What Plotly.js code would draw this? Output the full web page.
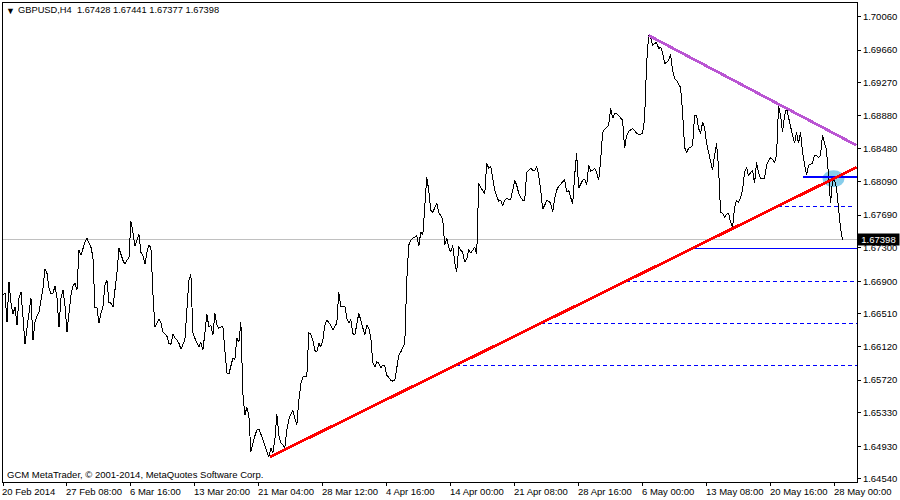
<!DOCTYPE html>
<html>
<head>
<meta charset="utf-8">
<script src="https://cdn.plot.ly/plotly-3.0.1.min.js"></script>
<style>
html,body{margin:0;padding:0;background:#fff}
#chart{width:900px;height:500px}
.scatterlayer .js-line{shape-rendering:crispEdges}
</style>
</head>
<body>
<div id="chart"></div>
<script>
// one close per H4 bar, bar 0 = 20 Feb 2014
const closes = [
1.66734,1.66758,1.66412,1.66889,1.66638,1.66507,1.66591,1.66376,1.66698,1.66769,
1.66471,1.66149,1.66340,1.66519,1.66698,1.66197,1.66412,1.66483,1.66531,1.66674,
1.66817,1.67044,1.66996,1.66817,1.66746,1.66758,1.66841,1.66710,1.66352,1.66698,
1.66793,1.66614,1.66293,1.66519,1.66734,1.66841,1.66877,1.66793,1.67270,1.67211,
1.67294,1.67366,1.67413,1.67366,1.67306,1.67187,1.66591,1.66591,1.66400,1.66519,
1.66591,1.66853,1.66913,1.66650,1.66638,1.66591,1.66769,1.66996,1.67294,1.67211,
1.67151,1.67103,1.67151,1.67175,1.67616,1.67485,1.67318,1.67389,1.67461,1.67246,
1.67211,1.67103,1.67246,1.67330,1.67306,1.66758,1.66352,1.66400,1.66448,1.66412,
1.66293,1.66269,1.66245,1.66161,1.66149,1.66269,1.66221,1.66197,1.66161,1.66090,
1.66149,1.66197,1.66555,1.66913,1.66984,1.66281,1.66221,1.66173,1.66114,1.66173,
1.66078,1.66281,1.66507,1.66352,1.66376,1.66257,1.66519,1.66376,1.66340,1.66352,
1.66364,1.66078,1.65804,1.65792,1.65899,1.65983,1.65959,1.66221,1.66173,1.66412,
1.65565,1.65303,1.65398,1.65303,1.64862,1.64969,1.65053,1.65124,1.65136,1.65076,
1.65005,1.64945,1.64886,1.64802,1.64910,1.64850,1.65005,1.65315,1.65065,1.64969,
1.64945,1.64910,1.65124,1.65255,1.65315,1.65363,1.65267,1.65184,1.65482,1.65673,
1.65756,1.65768,1.65768,1.66281,1.66269,1.66197,1.66078,1.66054,1.66161,1.66114,
1.66197,1.66376,1.66436,1.66400,1.66376,1.66316,1.66364,1.66400,1.66769,1.66603,
1.66603,1.66603,1.66459,1.66400,1.66448,1.66281,1.66257,1.66376,1.66519,1.66436,
1.66340,1.66257,1.66376,1.66340,1.66233,1.65935,1.65875,1.65935,1.65923,1.65863,
1.65899,1.65887,1.65780,1.65744,1.65720,1.65708,1.65720,1.65863,1.66018,1.66054,
1.66114,1.66149,1.66913,1.67330,1.67389,1.67413,1.67425,1.67449,1.67318,1.67485,
1.67449,1.67783,1.68141,1.67986,1.67747,1.67723,1.67783,1.67831,1.67723,1.67676,
1.67640,1.67330,1.67413,1.67306,1.67246,1.67330,1.67127,1.67008,1.67318,1.67270,
1.67246,1.67127,1.67163,1.67282,1.67234,1.67270,1.67306,1.67223,1.68069,1.68021,
1.67974,1.67938,1.68308,1.68248,1.68272,1.68105,1.67986,1.67914,1.67854,1.67866,
1.67795,1.67866,1.67890,1.67878,1.67878,1.67986,1.68105,1.68045,1.67950,1.67902,
1.67866,1.67866,1.68200,1.68224,1.68248,1.68224,1.68224,1.68272,1.68164,1.67986,
1.67759,1.67807,1.67866,1.67854,1.67831,1.67723,1.67890,1.67986,1.68033,1.68057,
1.68093,1.68117,1.67962,1.67986,1.67902,1.67819,1.68164,1.68427,1.68009,1.68057,
1.68105,1.68117,1.68045,1.68284,1.68212,1.68224,1.68248,1.68200,1.68105,1.68343,
1.68677,1.68713,1.68737,1.68761,1.68963,1.68844,1.68904,1.68904,1.68880,1.68856,
1.68820,1.68486,1.68641,1.68689,1.68713,1.68725,1.68701,1.68665,1.68653,1.68653,
1.68665,1.68844,1.69500,1.69834,1.69810,1.69714,1.69738,1.69750,1.69679,1.69691,
1.69631,1.69500,1.69512,1.69536,1.69607,1.69416,1.69321,1.69297,1.69249,1.69214,
1.68916,1.68498,1.68439,1.68486,1.68498,1.68522,1.68880,1.68880,1.68725,1.68665,
1.68796,1.68737,1.68546,1.68439,1.68319,1.68224,1.68403,1.68546,1.68248,1.67723,
1.67711,1.67664,1.67699,1.67711,1.67604,1.67544,1.67783,1.67866,1.67843,1.67902,
1.67986,1.68200,1.68260,1.68153,1.68200,1.68224,1.68069,1.68319,1.68200,1.68129,
1.68129,1.68129,1.68284,1.68343,1.68379,1.68355,1.68319,1.68403,1.68999,1.68880,
1.68677,1.68880,1.68963,1.68856,1.68725,1.68641,1.68546,1.68677,1.68546,1.68677,
1.68439,1.68284,1.68164,1.68284,1.68296,1.68308,1.68403,1.68403,1.68379,1.68403,
1.68641,1.68558,1.68463,1.68164,1.67831,1.68105,1.68105,1.68009,1.67747,1.67533,
1.67398
];
const bars = closes.map((_, i) => i);

const xTickBars = [0,32,64,96,128,160,192,224,256,288,320,352,384,416];
const xTickLabels = ['20 Feb 2014','27 Feb 08:00','6 Mar 16:00','13 Mar 20:00','21 Mar 04:00','28 Mar 12:00','4 Apr 16:00','14 Apr 00:00','21 Apr 08:00','28 Apr 16:00','6 May 00:00','13 May 08:00','20 May 16:00','28 May 00:00'];
const yTickLabels = ['1.70060','1.69660','1.69270','1.68880','1.68480','1.68090','1.67690','1.67300','1.66900','1.66510','1.66120','1.65720','1.65330','1.64930','1.64540'];
const yTickValues = yTickLabels.map(Number);

const xRange = [0, 427.25];
const yRange = [1.64504, 1.70221];

const headerText = 'GBPUSD,H4&nbsp;&nbsp;1.67428 1.67441 1.67377 1.67398';
const footerText = 'GCM MetaTrader, © 2001-2014, MetaQuotes Software Corp.';
const lastPrice = 1.67398;

const resistBars = [323, 427];
const resistPrices = [1.69834, 1.68522];
const supportBars = [133.5, 427];
const supportPrices = [1.64802, 1.68260];
const breakBars = [400, 427];
const breakPrices = [1.68141, 1.68141];
const target1Bars = [387.5, 426];
const target1Prices = [1.67795, 1.67795];
const target2Bars = [344.5, 427];
const target2Prices = [1.67290, 1.67290];
const target3Bars = [311.5, 427];
const target3Prices = [1.66900, 1.66900];
const target4Bars = [269, 427];
const target4Prices = [1.66400, 1.66400];
const target5Bars = [226.5, 427];
const target5Prices = [1.65899, 1.65899];
const ellipseBars = [410, 421];
const ellipsePrices = [1.68021, 1.68224];

const FONT = '"Liberation Sans", Arial, sans-serif';
const ln = (x, y, color, width, dash) => ({
  x, y, type: 'scatter', mode: 'lines', hoverinfo: 'skip', showlegend: false,
  line: {color, width, dash: dash || 'solid', shape: 'linear'}
});

const traces = [
  ln(xRange, [lastPrice, lastPrice], '#c0c0c0', 1),
  ln(bars, closes, '#000000', 1),
  ln(target1Bars, target1Prices, '#0000ff', 1, '4px,3px'),
  ln(target2Bars, target2Prices, '#0000ff', 1),
  ln(target3Bars, target3Prices, '#0000ff', 1, '4px,3px'),
  ln(target4Bars, target4Prices, '#0000ff', 1, '4px,3px'),
  ln(target5Bars, target5Prices, '#0000ff', 1, '4px,3px'),
  ln(breakBars, breakPrices, '#0000ff', 2),
  ln(resistBars, resistPrices, '#ba55d3', 2.8),
  ln(supportBars, supportPrices, '#ff0000', 2.8)
];

const annotations = xTickBars.map((b, i) => ({
  x: b, xref: 'x', y: 0, yref: 'paper', yanchor: 'top', xanchor: 'left',
  xshift: -3, yshift: -2, text: xTickLabels[i], showarrow: false,
  font: {family: FONT, size: 9.5, color: '#000'}
}));
annotations.push({
  x: 0, xref: 'paper', xshift: 0.5, y: 1, yref: 'paper', yanchor: 'top', xanchor: 'left', yshift: -0.5,
  text: '▼', showarrow: false, font: {family: FONT, size: 9, color: '#000'}
});
annotations.push({
  x: 0, xref: 'paper', xshift: 2, y: 0, yref: 'paper', yanchor: 'bottom', xanchor: 'left', yshift: 0,
  text: footerText, showarrow: false, font: {family: FONT, size: 9.5, color: '#000'}
});
annotations.push({
  x: 1, xref: 'paper', xanchor: 'left', xshift: 0, y: lastPrice, yref: 'y', yanchor: 'middle',
  text: lastPrice.toFixed(5), showarrow: false, bgcolor: '#000', borderpad: 0, width: 41, height: 11,
  font: {family: FONT, size: 9.5, color: '#fff'}
});

const layout = {
  width: 900, height: 500,
  margin: {l: 3, r: 42.5, t: 3, b: 17.5, pad: 0},
  paper_bgcolor: '#fff', plot_bgcolor: '#fff',
  showlegend: false,
  font: {family: FONT, size: 9.5, color: '#000'},
  title: {text: headerText, x: 18 / 900, xanchor: 'left', xref: 'container',
          y: 0.981, yref: 'container', yanchor: 'middle',
          font: {family: FONT, size: 9.3, color: '#000'}},
  xaxis: {range: xRange, type: 'linear', showgrid: false, zeroline: false,
          showline: true, mirror: true, linecolor: '#000', linewidth: 1,
          tickmode: 'array', tickvals: xTickBars, ticktext: xTickBars.map(() => ''),
          ticks: 'outside', ticklen: 3, tickwidth: 1, tickcolor: '#000'},
  yaxis: {range: yRange, type: 'linear', side: 'right', showgrid: false, zeroline: false,
          showline: true, mirror: true, linecolor: '#000', linewidth: 1,
          tickmode: 'array', tickvals: yTickValues, ticktext: yTickLabels,
          ticks: 'outside', ticklen: 3, tickwidth: 1, tickcolor: '#000',
          tickfont: {family: FONT, size: 9.5, color: '#000'}},
  shapes: [{
    type: 'circle', xref: 'x', yref: 'y', layer: 'below',
    x0: ellipseBars[0], x1: ellipseBars[1], y0: ellipsePrices[0], y1: ellipsePrices[1],
    fillcolor: '#87ceeb', line: {width: 0}
  }],
  annotations
};

Plotly.newPlot('chart', traces, layout, {displayModeBar: false, staticPlot: true});
</script>
</body>
</html>
